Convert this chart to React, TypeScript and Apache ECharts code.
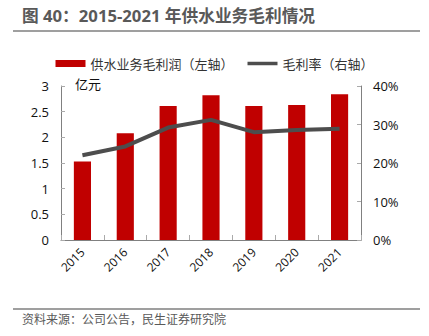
import React, { useEffect, useRef } from "react";
import * as echarts from "echarts";

const categories = ["2015", "2016", "2017", "2018", "2019", "2020", "2021"];
const grossProfit = [1.53, 2.08, 2.61, 2.82, 2.61, 2.63, 2.84];
const grossMargin = [22.0, 24.3, 29.2, 31.2, 28.0, 28.6, 28.9];
const leftTicks = [0, 0.5, 1, 1.5, 2, 2.5, 3];
const rightTicks = [0, 10, 20, 30, 40];

const FONT = "'Open Sans', 'Noto Sans CJK SC', sans-serif";

export default function App() {
  const ref = useRef<HTMLDivElement>(null);
  useEffect(() => {
    if (!ref.current) return;
    const chart = echarts.init(ref.current, undefined, { renderer: "svg" });
    chart.setOption({
      animation: false,
      textStyle: { fontFamily: FONT },
      grid: { left: 61, right: 68, top: 86, bottom: 96 },
      legend: {
        top: 52,
        left: "center",
        itemGap: 14,
        itemWidth: 30,
        itemHeight: 7,
        symbolKeepAspect: true,
        textStyle: { fontSize: 13, color: "#333", fontFamily: FONT },
        data: [
          { name: "供水业务毛利润（左轴）", icon: "rect" },
          { name: "毛利率（右轴）", icon: "path://M0,0h30v3.5h-30z", itemStyle: { color: "#4d4d4d" } },
        ],
      },
      xAxis: {
        type: "category",
        data: categories,
        axisLine: { lineStyle: { color: "#808080" } },
        axisTick: { show: true, inside: true, length: 5, lineStyle: { color: "#aaa" } },
        axisLabel: { rotate: 45, fontSize: 12, color: "#111", margin: 10, fontFamily: FONT },
      },
      yAxis: [
        {
          type: "value",
          min: leftTicks[0],
          max: leftTicks[leftTicks.length - 1],
          interval: 0.5,
          axisLine: { show: true, lineStyle: { color: "#808080" } },
          axisTick: { show: true, inside: true, length: 4, lineStyle: { color: "#aaa" } },
          splitLine: { show: false },
          axisLabel: { fontSize: 13, color: "#111", margin: 12, fontFamily: FONT },
        },
        {
          type: "value",
          min: rightTicks[0],
          max: rightTicks[rightTicks.length - 1],
          interval: 10,
          axisLine: { show: true, lineStyle: { color: "#808080" } },
          axisTick: { show: true, inside: true, length: 4, lineStyle: { color: "#aaa" } },
          splitLine: { show: false },
          axisLabel: { fontSize: 13, color: "#111", margin: 12, formatter: "{value}%", fontFamily: FONT },
        },
      ],
      series: [
        {
          name: "供水业务毛利润（左轴）",
          type: "bar",
          data: grossProfit,
          barWidth: "40%",
          itemStyle: { color: "#C00000" },
        },
        {
          name: "毛利率（右轴）",
          type: "line",
          yAxisIndex: 1,
          data: grossMargin,
          symbol: "none",
          lineStyle: { color: "#4d4d4d", width: 4 },
          itemStyle: { color: "#4d4d4d" },
        },
      ],
      graphic: [
        {
          type: "text",
          left: 22,
          top: 7,
          style: { text: "图 40：2015-2021 年供水业务毛利情况", fontSize: 16.7, fontWeight: "bold", fill: "#595959", fontFamily: FONT },
        },
        { type: "line", shape: { x1: 13, y1: 31, x2: 420, y2: 31 }, style: { stroke: "#7f7f7f", lineWidth: 1.5 } },
        {
          type: "text",
          left: 75,
          top: 77,
          style: { text: "亿元", fontSize: 13, fill: "#111", fontFamily: FONT },
        },
        { type: "line", shape: { x1: 13, y1: 309, x2: 420, y2: 309 }, style: { stroke: "#7f7f7f", lineWidth: 1.5 } },
        {
          type: "text",
          left: 22,
          top: 313,
          style: { text: "资料来源：公司公告，民生证券研究院", fontSize: 12, fill: "#595959", fontFamily: FONT },
        },
      ],
    });
    return () => chart.dispose();
  }, []);
  return <div ref={ref} style={{ width: 429, height: 336, position: "absolute", left: 0, top: 0 }} />;
}
